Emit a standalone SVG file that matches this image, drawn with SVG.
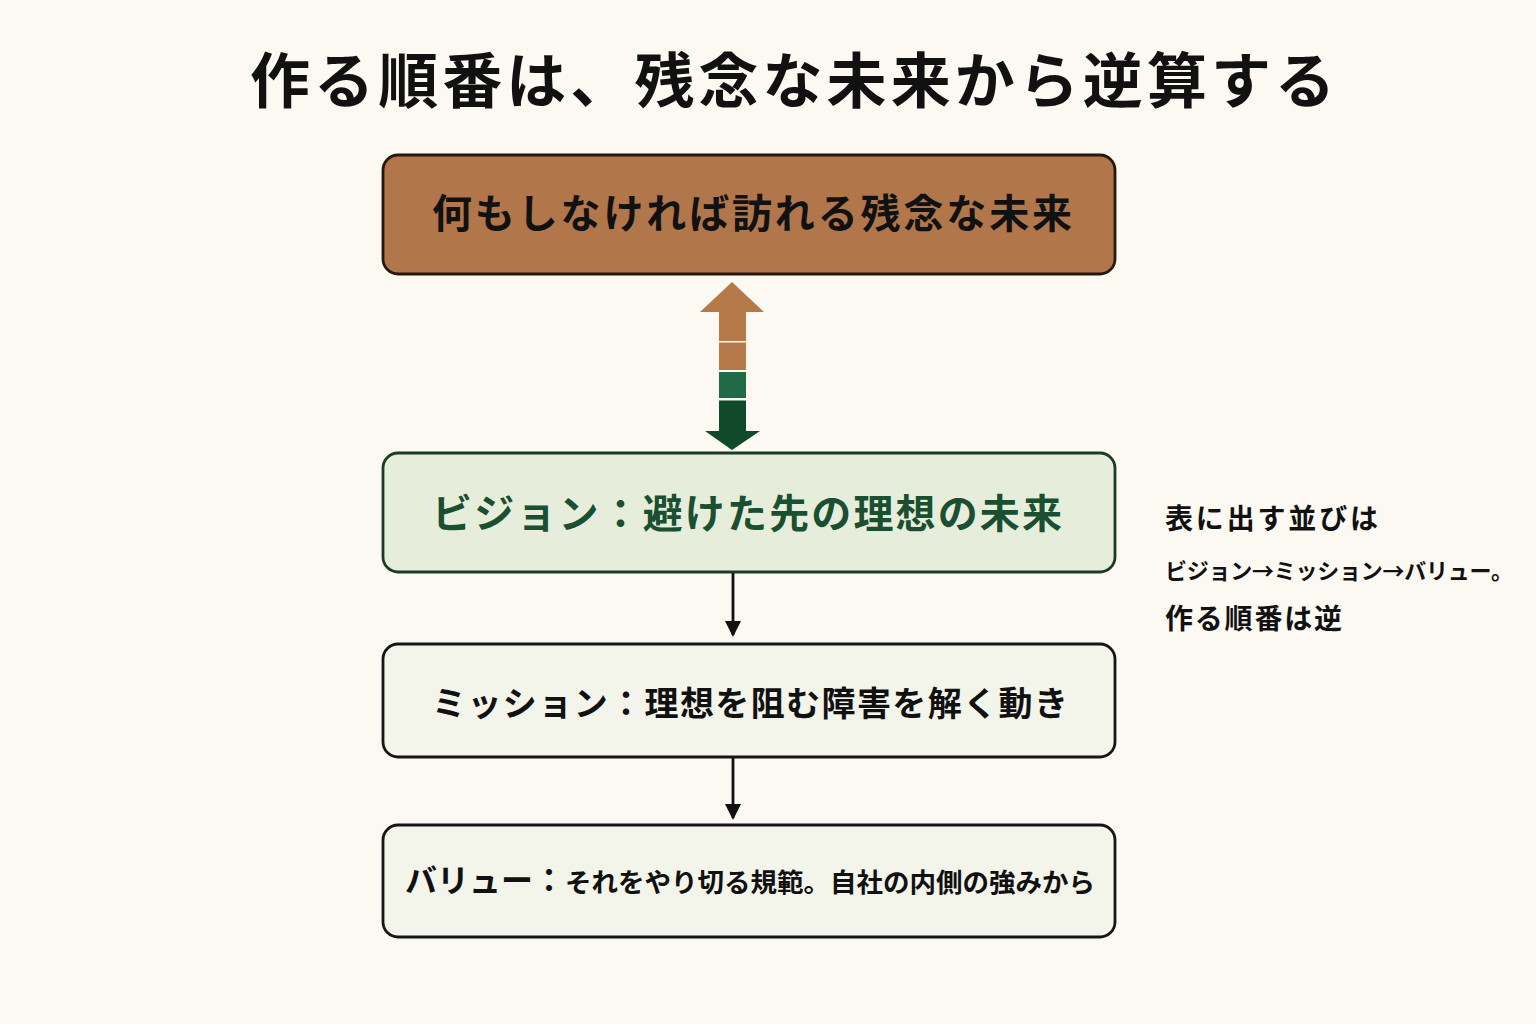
<svg xmlns="http://www.w3.org/2000/svg" width="1536" height="1024" viewBox="0 0 1536 1024">
  <defs>
    <style>
      .jp { font-family: "Noto Sans CJK JP", "Noto Sans CJK SC", sans-serif; font-weight: 700; }
      .box { stroke-width: 2.8; }
      .conn { stroke: #111; stroke-width: 2.8; fill: none; }
    </style>
    <marker id="ah" viewBox="0 0 16 16" refX="14" refY="8" markerWidth="16" markerHeight="16" markerUnits="userSpaceOnUse" orient="auto">
      <path d="M0,0 L16,8 L0,16 Z" fill="#111"/>
    </marker>
  </defs>
  <rect width="1536" height="1024" fill="#fcf9f3"/>

  <text id="title" class="jp" x="250" y="103" font-size="60" textLength="1085" lengthAdjust="spacing" fill="#111">作る順番は、残念な未来から逆算する</text>

  <g id="node-bad-future">
    <rect class="box" x="383" y="155" width="732" height="119" rx="15" fill="#b1764a" stroke="#24180f"/>
    <text class="jp" x="432" y="228" font-size="40" textLength="640" lengthAdjust="spacing" fill="#111">何もしなければ訪れる残念な未来</text>
  </g>

  <g id="node-vision">
    <rect class="box" x="383" y="453" width="732" height="119" rx="15" fill="#e6eedb" stroke="#1c3b27"/>
    <text class="jp" x="432" y="528" font-size="40" textLength="630" lengthAdjust="spacing" fill="#1a4f31">ビジョン：避けた先の理想の未来</text>
  </g>

  <g id="node-mission">
    <rect class="box" x="383" y="644" width="732" height="113" rx="15" fill="#f3f4ea" stroke="#161616"/>
    <text class="jp" x="432" y="716" font-size="34" textLength="636" lengthAdjust="spacing" fill="#111">ミッション：理想を阻む障害を解く動き</text>
  </g>

  <g id="node-value">
    <rect class="box" x="383" y="825" width="732" height="112" rx="15" fill="#f3f4ea" stroke="#161616"/>
    <text class="jp" x="405" y="892" fill="#111"><tspan font-size="32">バリュー：</tspan><tspan font-size="26.5">それをやり切る規範。自社の内側の強みから</tspan></text>
  </g>

  <g id="note">
    <text class="jp" x="1165" y="529" font-size="28" textLength="213" lengthAdjust="spacing" fill="#111">表に出す並びは</text>
    <text class="jp" x="1165" y="579" font-size="22" textLength="348" lengthAdjust="spacing" fill="#111">ビジョン→ミッション→バリュー。</text>
    <text class="jp" x="1165" y="629" font-size="28" textLength="177" lengthAdjust="spacing" fill="#111">作る順番は逆</text>
  </g>

  <g id="connectors">
    <g id="double-arrow">
      <polygon points="732,282 764,312 746,312 746,341 719,341 719,312 700,312" fill="#b67a4a"/>
      <rect x="719" y="342.5" width="27" height="27.5" fill="#b67a4a"/>
      <rect x="719" y="372" width="27" height="26" fill="#1f6b45"/>
      <polygon points="719,400.5 746,400.5 746,431 760,431 732,450 705,431 719,431" fill="#0f4a2b"/>
    </g>
    <line class="conn" x1="733" y1="573" x2="733" y2="635" marker-end="url(#ah)"/>
    <line class="conn" x1="733" y1="757" x2="733" y2="818" marker-end="url(#ah)"/>
  </g>
</svg>
